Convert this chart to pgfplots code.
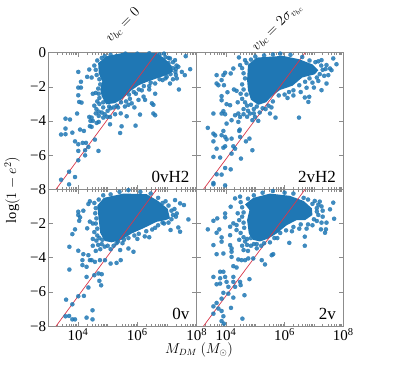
\documentclass[border=0pt]{standalone}
\usepackage{fontspec}
\setmainfont{Liberation Serif}
\usepackage{pgfplots}
\pgfplotsset{compat=1.18}
\definecolor{dotblue}{HTML}{1F77B4}
\definecolor{fitred}{HTML}{D9374A}
\definecolor{spine}{HTML}{8C8C8C}
\tikzset{paneltag/.style={anchor=south east,font=\fontsize{17}{17}\selectfont,inner sep=0pt}}
% x is log10 of the mass
\pgfplotsset{panel/.style={
 scale only axis,anchor=south west,
 xmin=3,xmax=8,ymin=-8,ymax=0,
 xtick={4,6,8},ytick={-8,-6,-4,-2,0},
 minor xtick={3.3,3.48,3.6,3.7,3.78,3.85,3.9,3.95,4.3,4.48,4.6,4.7,4.78,4.85,4.9,4.95,5,5.3,5.48,5.6,5.7,5.78,5.85,5.9,5.95,6.3,6.48,6.6,6.7,6.78,6.85,6.9,6.95,7,7.3,7.48,7.6,7.7,7.78,7.85,7.9,7.95},
 tick align=inside,tick pos=both,
 major tick length=4.5pt,minor tick length=2.5pt,
 axis line style={spine,line width=.8pt},
 tick style={spine,line width=.6pt},
 tick label style={font=\fontsize{15}{15}\selectfont,inner sep=2pt},
 xticklabels={},yticklabels={},
},
 xlabs/.style={xticklabels={10\textsuperscript{4},10\textsuperscript{6},10\textsuperscript{8}}},
 core/.style={draw=none,fill=dotblue,forget plot},
 spots/.style={only marks,mark=*,mark size=2.1pt,mark options={solid,draw=dotblue,fill=dotblue,line width=.2pt,opacity=.85},forget plot},
 fitline/.style={fitred,line width=.7pt,no marks,forget plot},
}
\begin{document}
\begin{tikzpicture}
\useasboundingbox (0pt,0pt) rectangle (403pt,366pt);

% top left
\begin{axis}[panel,at={(48.3pt,176.7pt)},width=148.4pt,height=136.5pt,yticklabels={−8,−6,−4,−2,0}]
\addplot[core] coordinates {(4.68,-0.6) (4.97,-0.2) (5.53,0) (6.65,0) (6.95,-0.38) (7.15,-0.75) (7.2,-1.1) (7.0,-1.3) (6.65,-1.5) (6.3,-1.72) (6.05,-1.9) (5.8,-2.2) (5.5,-2.7) (5.25,-2.95) (4.95,-3.02) (4.8,-2.55) (4.75,-2.15) (4.82,-1.7) (4.7,-1.2)} --cycle;
\addplot[spots] coordinates {
(3.43,-4.79) (3.58,-4.44) (3.58,-3.86) (3.73,-3.91) (3.58,-4.77) (3.81,-4.68) (3.97,-3.56) (4.07,-4.5) (4.2,-4.58) (3.9,-5.19) (4.01,-5.36) (4.16,-5.28) (4.27,-5.28) (4.35,-5.52) (4.57,-5.09) (4.01,-5.75) (4.24,-5.71) (4.24,-6.01) (4.69,-5.75) (4.01,-6.3) (3.7,-6.97) (3.9,-7.28) (3.43,-7.44) (3.7,-7.71)
(4.01,-1.12) (4.1,-1.7) (4.01,-2.04) (4.1,-2.04) (4.01,-2.49) (4.12,-2.92) (4.04,-2.88) (4.38,-0.98) (4.31,-1.41) (4.46,-1.45) (4.38,-3.76) (4.46,-3.8) (4.42,-3.99) (4.5,-3.99) (4.63,-4.11) (4.7,-4.05) (4.4,-4.3) (4.46,-4.34) (5.08,-4.19) (5.47,-4.31) (5.42,-4.7) (5.94,-4.27) (5.44,-3.55) (5.64,-3.72) (5.08,-3.76) (5.25,-3.6) (6.09,-3.62) (6.54,-3.56) (6.6,-3.66)
(6.21,-2.57) (6.26,-2.76) (6.49,-2.96) (6.54,-3.05) (6.04,-2.76) (5.81,-2.96) (5.7,-3.05) (5.58,-3.15) (5.9,-3.2) (5.75,-2.7) (5.95,-2.4) (6.15,-2.2) (6.4,-2.15) (6.6,-2.4)
(7.78,-0.96) (7.63,-0.2) (7.38,-0.82) (7.5,-1.12) (7.6,-1.31) (7.4,-2.15) (7.33,-1.5) (7.1,-1.8) (6.99,-1.41) (7.27,-0.43) (7.1,-0.33) (6.9,-0.05) (7.3,-1.3) (7.2,-1.55) (6.85,-1.6) (6.6,-1.8) (6.4,-1.95) (7.05,-0.6) (7.2,-0.9) (7.3,-0.95)
(4.55,-0.75) (4.6,-1.0) (4.63,-1.3) (4.72,-1.55) (4.75,-1.85) (4.68,-2.1) (4.7,-2.4) (4.72,-2.65) (4.6,-2.35) (4.5,-2.4) (4.65,-2.85) (4.55,-3.1) (4.62,-3.3) (4.7,-3.45) (4.85,-3.2) (4.8,-3.5) (4.9,-3.6) (5.0,-3.4) (5.1,-3.25) (5.2,-3.2) (5.3,-3.1) (5.35,-3.2) (4.98,-3.75) (4.85,-3.8) (4.7,-3.7) (4.6,-3.55)
(4.65,-0.45) (4.8,-0.3) (4.9,-0.2) (5.1,-0.12) (5.3,-0.2) (5.6,-0.05) (6.0,-0.05) (6.4,-0.03) (6.75,-0.1) (6.95,-0.25)
(5.62,-2.85) (5.72,-2.45) (5.88,-2.3) (6.05,-2.15) (6.22,-1.95) (6.45,-1.75) (6.75,-1.55) (6.95,-1.5) (7.12,-1.25) (7.28,-1.12) (7.32,-0.75) (7.2,-0.55) (7.05,-0.3) (4.72,-3.0) (4.85,-2.9) (5.05,-3.15) (5.45,-2.9)
};
\addplot[fitline] coordinates {(3.26,-8) (6.65,0)};
\node[paneltag] at (axis cs:7.76,-7.62) {0vH2};
\end{axis}

% top right
\begin{axis}[panel,at={(196.7pt,176.7pt)},width=146.5pt,height=136.5pt]
\addplot[core] coordinates {(4.75,-0.7) (5.05,-0.28) (5.95,-0.18) (6.5,-0.38) (6.95,-0.68) (7.15,-1.02) (7.03,-1.26) (6.6,-1.45) (6.27,-1.93) (5.84,-2.18) (5.56,-2.55) (5.37,-2.9) (5.1,-3.05) (4.85,-2.75) (4.75,-2.19) (4.72,-1.6)} --cycle;
\addplot[spots] coordinates {
(3.38,-4.4) (3.57,-3.56) (3.57,-4.74) (3.63,-4.84) (3.57,-5.19) (3.57,-6.1) (3.8,-6.14) (3.68,-5.62) (3.91,-5.56) (3.97,-5.48) (3.85,-4.83) (3.97,-4.93) (4.02,-5.07) (3.91,-4.58) (4.19,-5.03) (4.25,-5.48) (4.31,-5.62) (4.19,-5.91) (4.51,-6.2) (4.9,-5.71) (4.8,-5.03) (4.68,-5.19) (4.45,-4.58) (4.47,-4.5) (4.48,-4.93) (3.97,-6.75) (4.16,-6.83) (3.68,-7.12) (3.85,-7.14) (3.57,-7.71) (3.97,-7.77) (3.57,-7.63)
(4.02,-4.15) (4.19,-3.95) (4.42,-4.05) (4.48,-3.76) (4.31,-3.66) (4.42,-3.56) (3.91,-3.42) (3.85,-3.56) (3.97,-3.6) (4.02,-3.01) (4.14,-3.07) (3.85,-2.78) (3.85,-2.54) (4.05,-2.31) (4.27,-2.15) (4.36,-2.23) (3.68,-1.8) (3.74,-1.9) (3.85,-1.6) (3.93,-1.9) (3.68,-1.31) (3.97,-1.17) (3.91,-1.31) (4.16,-1.21) (4.25,-0.92) (4.48,-0.72) (4.44,-0.27) (4.65,-0.43)
(6.49,-3.8) (5.69,-3.8) (5.1,-3.99) (5.5,-3.56) (6.69,-2.62) (6.84,-2.58) (6.81,-2.88) (7.26,-2.19) (7.0,-2.04) (7.43,-1.8) (7.6,-1.02) (7.77,-0.67) (7.66,-0.33) (7.26,-0.43) (7.49,-1.31) (7.55,-0.92) (7.43,-0.72)
(4.55,-0.9) (4.6,-1.2) (4.65,-1.5) (4.55,-1.85) (4.6,-2.15) (4.7,-2.45) (4.5,-2.4) (4.55,-2.7) (4.4,-2.9) (4.65,-2.9) (4.72,-3.1) (4.6,-3.3) (4.75,-3.4) (4.6,-3.6) (4.72,-3.75) (4.82,-3.56) (4.95,-3.3) (4.99,-3.76) (4.9,-3.95) (5.15,-3.5) (5.25,-3.25) (5.35,-3.3) (5.45,-3.1) (5.6,-2.85) (5.8,-2.5) (6.0,-2.45) (6.15,-2.3) (6.3,-2.2) (6.5,-1.9) (6.7,-1.7) (6.85,-1.5) (7.1,-1.45) (7.2,-1.25) (7.3,-1.0) (7.25,-0.75) (7.05,-0.55) (6.85,-0.45) (6.6,-0.25) (6.2,-0.12) (5.85,-0.05) (5.6,-0.1) (5.3,-0.15) (5.0,-0.22) (4.85,-0.4) (4.7,-0.6)
(6.1,-2.65) (6.3,-2.5) (6.55,-2.3) (6.75,-2.05) (6.95,-1.75) (7.15,-1.65) (7.35,-1.35) (7.4,-0.95) (7.15,-0.5) (4.85,-3.05) (4.95,-3.55) (5.05,-3.15) (5.55,-3.2)
};
\addplot[fitline] coordinates {(3.23,-8) (6.7,0)};
\node[paneltag] at (axis cs:7.76,-7.62) {2vH2};
\end{axis}

% bottom left
\begin{axis}[panel,at={(48.3pt,39.8pt)},width=148.4pt,height=136.9pt,yticklabels={−8,−6,−4,−2,{}},xlabs]
\addplot[core] coordinates {(4.65,-0.95) (4.87,-0.5) (5.53,-0.25) (6.31,-0.28) (6.7,-0.68) (7.02,-1.13) (7.1,-1.7) (6.95,-1.8) (6.65,-1.9) (6.2,-2.28) (5.81,-2.58) (5.47,-2.95) (5.13,-3.1) (4.9,-3.02) (4.75,-2.55) (4.7,-1.8)} --cycle;
\addplot[spots] coordinates {
(7.72,-1.76) (7.57,-0.92) (7.27,-0.63) (7.44,-0.82) (7.33,-1.41) (7.44,-2.48) (7.12,-2.38) (7.38,-2.23) (5.87,-3.65) (5.3,-4.3) (5.44,-4.14) (5.1,-4.34) (5.7,-3.46) (5.42,-3.55)
(4.01,-1.31) (4.01,-1.5) (4.18,-1.25) (4.04,-1.84) (3.9,-2.34) (3.81,-2.62) (3.71,-3.36) (4.01,-3.59) (4.18,-3.79) (4.35,-0.86) (4.07,-1.64) (4.4,-1.89) (4.31,-2.28) (4.5,-2.0) (4.35,-3.85) (4.4,-4.14) (4.15,-4.14) (4.15,-4.43) (4.29,-4.53) (4.46,-4.14) (4.57,-4.24) (4.74,-4.14) (4.91,-4.14) (4.29,-5.12) (4.55,-5.02) (4.69,-4.92) (4.8,-4.96) (3.71,-4.69) (4.72,-5.35) (4.78,-5.61) (4.35,-5.74) (3.6,-6.45) (4.01,-6.25) (4.2,-6.23) (3.81,-6.72) (4.49,-7.07) (3.58,-7.42) (3.7,-7.4) (3.81,-7.6) (3.9,-7.6) (4.29,-7.5) (4.49,-7.6)
(4.55,-0.8) (4.4,-0.7) (4.6,-1.1) (4.58,-1.4) (4.62,-1.7) (4.6,-2.0) (4.65,-2.3) (4.55,-2.5) (4.65,-2.7) (4.5,-2.9) (4.62,-3.0) (4.5,-3.3) (4.68,-3.25) (4.8,-3.2) (4.75,-3.5) (4.6,-3.6) (4.9,-3.35) (5.0,-3.3) (5.1,-3.5) (5.2,-3.3) (5.3,-3.15) (5.5,-3.15) (5.55,-2.95) (5.7,-2.85) (5.9,-2.7) (6.05,-2.6) (6.0,-2.9) (6.25,-2.75) (6.4,-2.8) (6.5,-2.35) (6.7,-2.1) (6.9,-2.0) (7.05,-1.95) (7.15,-1.75) (7.2,-1.5) (7.15,-1.25) (7.05,-0.95) (6.85,-0.8) (6.7,-0.5) (6.45,-0.25) (6.1,-0.15) (5.7,-0.05) (5.4,-0.15) (5.1,-0.3) (4.85,-0.35) (4.7,-0.6)
(6.3,-2.45) (6.6,-2.25) (6.85,-1.95) (7.25,-1.15) (7.3,-1.6) (6.95,-0.7) (4.72,-2.85) (4.82,-2.95) (5.35,-3.05)
};
\addplot[fitline] coordinates {(3.26,-8) (6.65,0)};
\node[paneltag] at (axis cs:7.76,-7.62) {0v};
\end{axis}

% bottom right
\begin{axis}[panel,at={(196.7pt,39.8pt)},width=146.5pt,height=136.9pt,xlabs]
\addplot[core] coordinates {(4.65,-0.88) (4.93,-0.5) (5.5,-0.25) (6.18,-0.38) (6.65,-0.68) (6.93,-1.11) (6.95,-1.5) (6.7,-1.8) (6.41,-1.8) (6.07,-2.1) (5.73,-2.58) (5.44,-2.88) (5.16,-3.05) (4.92,-2.95) (4.78,-2.6) (4.72,-1.8) (4.8,-1.21)} --cycle;
\addplot[spots] coordinates {
(7.66,-0.78) (7.55,-1.17) (7.69,-1.72) (7.43,-1.95) (7.26,-1.95) (7.24,-2.34) (7.41,-2.34) (7.38,-2.54) (7.2,-0.72) (7.26,-1.0) (7.03,-0.68) (7.1,-1.3) (6.69,-3.3) (6.69,-2.77) (6.16,-3.13) (5.61,-3.79) (5.56,-3.85) (5.33,-4.39) (5.22,-4.14) (4.93,-4.04) (4.65,-4.14) (4.76,-4.04) (4.53,-4.14) (4.42,-4.1)
(4.25,-4.49) (4.36,-4.57) (4.19,-3.95) (4.19,-3.65) (4.14,-3.26) (4.19,-3.45) (3.91,-3.75) (3.68,-3.79) (3.57,-3.26) (3.85,-2.81) (3.85,-3.06) (3.68,-2.54) (3.77,-2.34) (3.38,-2.34) (3.57,-1.84) (3.7,-1.7) (4.14,-2.68) (3.97,-1.64) (3.97,-1.41) (4.16,-1.02) (4.31,-0.53) (4.48,-0.43) (4.36,-2.09) (4.14,-2.19) (4.36,-2.38) (4.25,-1.99)
(3.91,-4.82) (3.8,-4.82) (3.57,-5.12) (3.8,-5.2) (3.97,-5.12) (3.68,-5.55) (3.8,-5.51) (4.02,-5.41) (4.25,-5.41) (4.25,-5.12) (4.48,-5.41) (4.5,-5.6) (4.8,-5.25) (4.31,-5.7) (4.08,-5.7) (3.91,-6.05) (4.25,-6.33) (4.08,-6.1) (4.63,-6.19) (3.85,-6.39) (3.57,-6.84) (3.68,-6.64) (3.74,-6.97) (3.85,-7.11) (3.57,-7.27) (4.17,-6.93) (3.91,-7.42) (3.85,-7.7) (3.93,-7.85) (4.56,-7.56)
(4.5,-0.75) (4.55,-1.05) (4.6,-1.35) (4.55,-1.6) (4.45,-1.8) (4.6,-1.95) (4.4,-1.4) (4.62,-2.25) (4.5,-2.55) (4.6,-2.8) (4.45,-2.95) (4.65,-3.05) (4.55,-3.3) (4.72,-3.25) (4.6,-3.55) (4.75,-3.6) (4.85,-3.3) (4.95,-3.2) (5.05,-3.45) (5.2,-3.3) (5.3,-3.15) (5.5,-3.1) (5.65,-2.85) (5.85,-2.55) (6.05,-2.4) (6.3,-2.2) (6.55,-2.05) (6.8,-2.05) (7.0,-1.75) (7.15,-1.5) (7.1,-1.1) (6.95,-0.85) (6.8,-0.6) (6.65,-0.5) (6.3,-0.25) (6.0,-0.2) (5.6,-0.1) (5.25,-0.2) (4.95,-0.35) (4.75,-0.55)
(6.25,-2.45) (6.5,-2.3) (6.75,-2.3) (6.95,-2.1) (7.1,-1.85) (7.3,-1.6) (7.3,-1.25) (7.15,-0.9) (4.72,-2.9) (4.85,-2.85) (5.05,-3.2) (5.75,-2.85)
};
\addplot[fitline] coordinates {(3.23,-8) (6.7,0)};
\node[paneltag] at (axis cs:7.76,-7.62) {2v};
\end{axis}

\node[rotate=90,font=\fontsize{14.5}{14.5}\selectfont] at (12pt,176pt) {$\log(1-e^2)$};
\node[font=\fontsize{13.5}{13.5}\selectfont] at (199pt,16pt) {$M_{DM}\ (M_{\odot})$};
\node[rotate=45,font=\fontsize{14.5}{14.5}\selectfont] at (123pt,341pt) {$v_{bc}=0$};
\node[rotate=45,font=\fontsize{14.5}{14.5}\selectfont] at (277pt,339pt) {$v_{bc}=2\sigma_{v_{bc}}$};
\end{tikzpicture}
\end{document}
